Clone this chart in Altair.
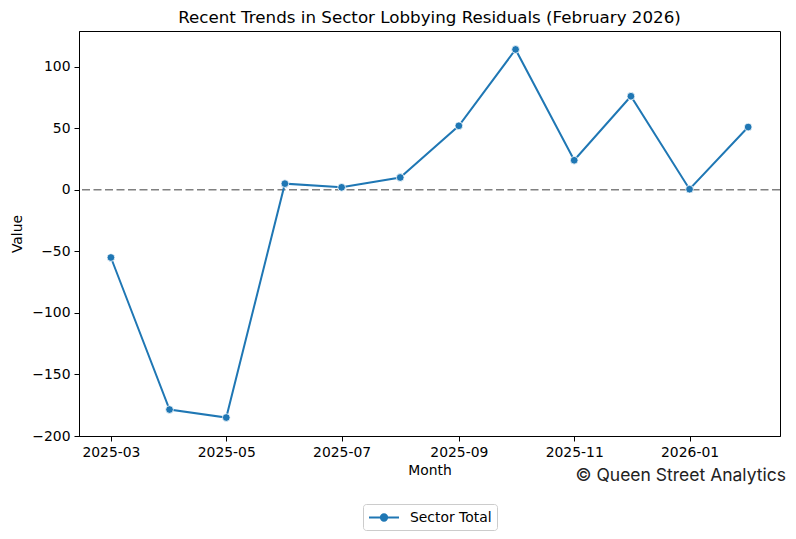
import pandas as pd
import altair as alt

# data
months = ["2025-03-01", "2025-04-01", "2025-05-01", "2025-06-01", "2025-07-01", "2025-08-01",
          "2025-09-01", "2025-10-01", "2025-11-01", "2025-12-01", "2026-01-01", "2026-02-01"]
values = [-55, -178.5, -185, 5, 2, 10, 52, 114, 24, 76, 0.5, 51]
series = ["Sector Total"] * len(months)
tick_months = [(2025, 3), (2025, 5), (2025, 7), (2025, 9), (2025, 11), (2026, 1)]

df = pd.DataFrame({"Month": months, "Value": values, "Series": series})

blue = "#1f77b4"
font = "DejaVu Sans"
fs = 13.9

# legend symbol: short line with a dot, shifted right so it starts at the legend padding
legend_path = "M-1,0L3,0M1.42,0A0.42,0.42,0,1,1,0.58,0A0.42,0.42,0,1,1,1.42,0Z"

x_enc = alt.X(
    "Month:T",
    title="Month",
    scale=alt.Scale(
        type="utc",
        domain=[alt.DateTime(year=2025, month=2, date=12, hours=3, utc=True),
                alt.DateTime(year=2026, month=2, date=17, hours=20, utc=True)],
    ),
    axis=alt.Axis(
        values=[alt.DateTime(year=y, month=m, date=1, utc=True) for y, m in tick_months],
        format="%Y-%m",
        grid=False,
    ),
)
y_enc = alt.Y(
    "Value:Q",
    title="Value",
    scale=alt.Scale(domain=[-200, 129], nice=False, zero=False),
    axis=alt.Axis(values=[-200, -150, -100, -50, 0, 50, 100], grid=False),
)

zero_line = alt.Chart(pd.DataFrame({"y": [0]})).mark_rule(
    color="gray", strokeWidth=1.6, strokeDash=[8, 3.5]
).encode(y=alt.Y("y:Q", scale=alt.Scale(domain=[-200, 129], nice=False, zero=False)))

line = alt.Chart(df).mark_line(strokeWidth=2).encode(
    x=x_enc,
    y=y_enc,
    color=alt.Color(
        "Series:N",
        scale=alt.Scale(domain=["Sector Total"], range=[blue]),
        legend=alt.Legend(
            title=None,
            orient="none",
            legendX=284,
            legendY=473,
            symbolType=legend_path,
            symbolSize=225,
            symbolFillColor=blue,
            symbolStrokeColor=blue,
            symbolStrokeWidth=2,
            labelOffset=25,
            labelFontSize=fs,
            labelFont=font,
            labelColor="black",
            padding=5,
            strokeColor="#cccccc",
            fillColor="white",
            cornerRadius=3,
        ),
    ),
)

points = alt.Chart(df).mark_circle(size=60, opacity=1, stroke="white", strokeWidth=0.8).encode(
    x=x_enc,
    y=y_enc,
    color=alt.Color("Series:N", scale=alt.Scale(domain=["Sector Total"], range=[blue])),
)

credit = alt.Chart(pd.DataFrame({"t": ["© Queen Street Analytics"]})).mark_text(
    align="right", baseline="middle", font="Inter", fontSize=17.5, color="#222222"
).encode(x=alt.value(707), y=alt.value(445), text="t:N")

chart = alt.layer(zero_line, line, points, credit).properties(
    width=701,
    height=405,
    autosize=alt.AutoSizeParams(type="none"),
    padding={"left": 71, "top": 23, "right": 8, "bottom": 95},
    title=alt.TitleParams(
        "Recent Trends in Sector Lobbying Residuals (February 2026)",
        font=font, fontSize=16.7, fontWeight="normal", color="black", offset=4,
    ),
).configure_view(
    stroke="black", strokeWidth=1
).configure_axis(
    labelFont=font, labelFontSize=fs, labelColor="black",
    titleFont=font, titleFontSize=fs, titleColor="black", titleFontWeight="normal",
    tickColor="black", tickSize=5, domainColor="black", labelPadding=4,
).configure_axisY(
    titlePadding=7,
).configure_axisX(
    titlePadding=5,
)

chart.save("out.html", embed_options={"renderer": "svg", "actions": False})
